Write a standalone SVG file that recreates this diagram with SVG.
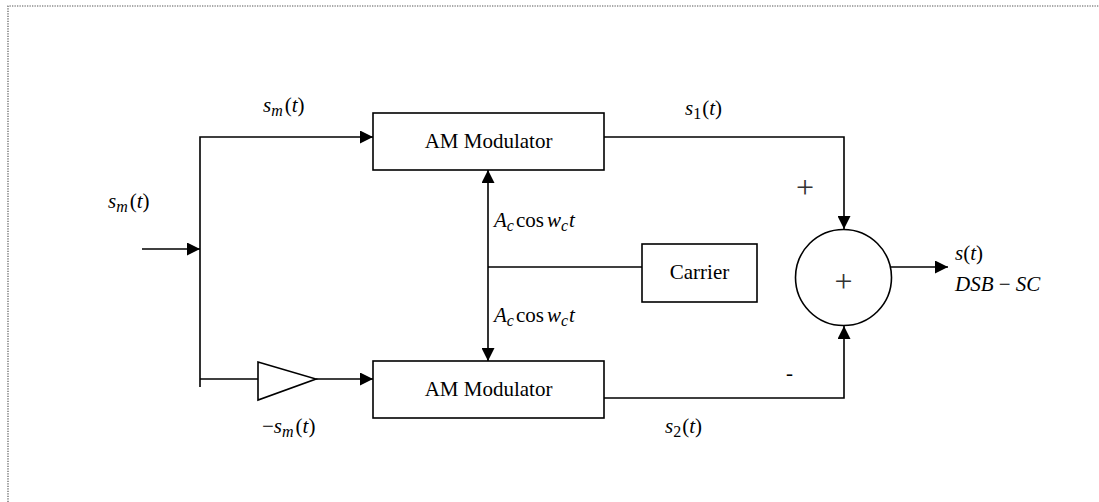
<svg xmlns="http://www.w3.org/2000/svg" width="1099" height="502" viewBox="0 0 1099 502">
<style>
.ln{fill:none;stroke:#000;stroke-width:1.6}
.box{fill:#fff;stroke:#000;stroke-width:1.6}
.t{font-family:"Liberation Serif","Times New Roman",serif;font-size:21px;fill:#000}
.m{font-family:"Liberation Serif","Times New Roman",serif;font-size:21px;font-style:italic;fill:#000}
.sub{font-size:16px}
.up{font-style:normal}
.pl{font-family:"Liberation Serif","Times New Roman",serif;font-size:32px;fill:#333}
</style>
<defs>
<marker id="ah" viewBox="0 0 10 10" refX="10" refY="5" markerWidth="15" markerHeight="13" markerUnits="userSpaceOnUse" orient="auto">
<path d="M0,0 L10,5 L0,10 z" fill="#000"/>
</marker>
</defs>
<rect width="1099" height="502" fill="#fff"/>
<path d="M8,502 V6 H1099" fill="none" stroke="#555" stroke-width="1.2" stroke-dasharray="1.3 1.2"/>

<g id="connectors">
<path class="ln" d="M142,249 H200" marker-end="url(#ah)"/>
<path class="ln" d="M200,387 V137 H373" marker-end="url(#ah)"/>
<path class="ln" d="M200,379 H258"/>
<path class="ln" d="M316,379 H373" marker-end="url(#ah)"/>
<path class="ln" d="M642,267 H488"/>
<path class="ln" d="M488,267 V170" marker-end="url(#ah)"/>
<path class="ln" d="M488,267 V361" marker-end="url(#ah)"/>
<path class="ln" d="M604,137 H844 V229" marker-end="url(#ah)"/>
<path class="ln" d="M604,398 H844 V326" marker-end="url(#ah)"/>
<path class="ln" d="M890,267 H948" marker-end="url(#ah)"/>
</g>

<g id="mod1">
<rect class="box" x="373" y="113" width="231" height="57"/>
<text class="t" x="488.5" y="148" text-anchor="middle">AM Modulator</text>
</g>
<g id="mod2">
<rect class="box" x="373" y="361" width="231" height="57"/>
<text class="t" x="488.5" y="396" text-anchor="middle">AM Modulator</text>
</g>
<g id="inverter">
<polygon class="box" points="258,362 316,379 258,400"/>
</g>
<g id="carrier">
<rect class="box" x="642" y="244" width="115" height="58"/>
<text class="t" x="699.5" y="279" text-anchor="middle">Carrier</text>
</g>
<g id="summer">
<circle class="box" cx="843.5" cy="277.5" r="48"/>
<text class="pl" x="843.5" y="292" text-anchor="middle">+</text>
</g>

<g id="labels">
<text class="m" x="263" y="112">s<tspan class="sub" dy="4">m</tspan><tspan class="up" dy="-4" dx="2">(</tspan>t<tspan class="up">)</tspan></text>
<text class="m" x="108" y="208">s<tspan class="sub" dy="4">m</tspan><tspan class="up" dy="-4" dx="2">(</tspan>t<tspan class="up">)</tspan></text>
<text class="m" x="262" y="433"><tspan class="up">−</tspan>s<tspan class="sub" dy="4">m</tspan><tspan class="up" dy="-4" dx="2">(</tspan>t<tspan class="up">)</tspan></text>
<text class="m" x="494" y="227">A<tspan class="sub" dy="4">c</tspan><tspan class="up" dy="-4" dx="2">cos</tspan><tspan dx="3">w</tspan><tspan class="sub" dy="4">c</tspan><tspan dy="-4" dx="1">t</tspan></text>
<text class="m" x="494" y="322">A<tspan class="sub" dy="4">c</tspan><tspan class="up" dy="-4" dx="2">cos</tspan><tspan dx="3">w</tspan><tspan class="sub" dy="4">c</tspan><tspan dy="-4" dx="1">t</tspan></text>
<text class="m" x="685" y="115">s<tspan class="sub up" dy="4">1</tspan><tspan class="up" dy="-4" dx="1">(</tspan>t<tspan class="up">)</tspan></text>
<text class="m" x="665" y="433">s<tspan class="sub up" dy="4">2</tspan><tspan class="up" dy="-4" dx="1">(</tspan>t<tspan class="up">)</tspan></text>
<text class="m" x="955" y="260">s<tspan class="up">(</tspan>t<tspan class="up">)</tspan></text>
<text class="m" x="955" y="291">DSB <tspan class="up">−</tspan> SC</text>
<text class="pl" x="805" y="198" text-anchor="middle">+</text>
<text class="t" x="789.5" y="380" text-anchor="middle">-</text>
</g>
</svg>
